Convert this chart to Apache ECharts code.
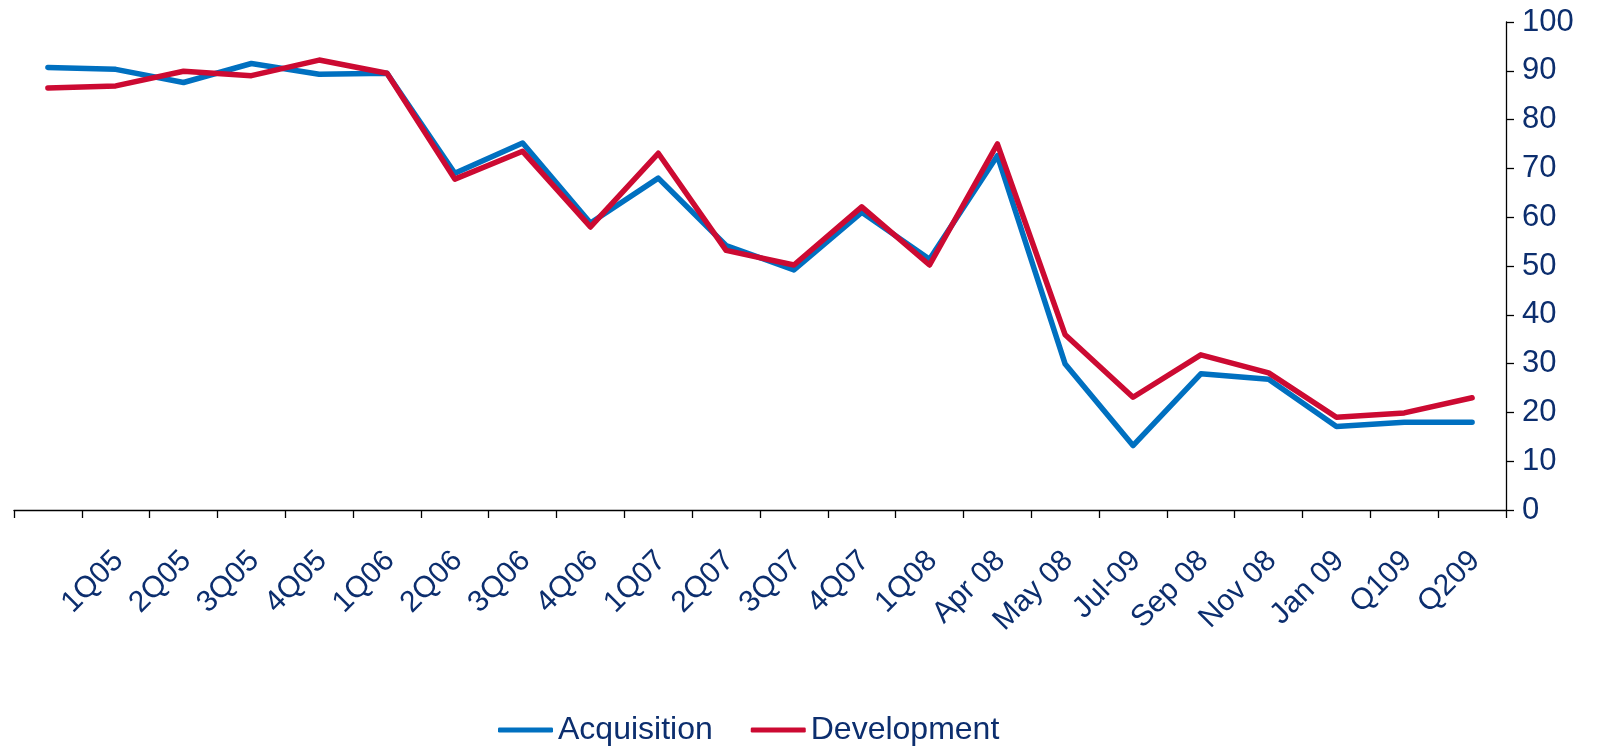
<!DOCTYPE html>
<html>
<head>
<meta charset="utf-8">
<title>Acquisition / Development</title>
<script src="https://cdn.jsdelivr.net/npm/echarts@6/dist/echarts.min.js"></script>
<style>
    html, body { margin: 0; padding: 0; background: #fff; }
    #chart { width: 1602px; height: 747px; }
</style>
</head>
<body>
<div id="chart"></div>
<script>
// 横轴分类 (第一个点没有标签)
var categories = ['', '1Q05', '2Q05', '3Q05', '4Q05', '1Q06', '2Q06', '3Q06', '4Q06', '1Q07', '2Q07',
    '3Q07', '4Q07', '1Q08', 'Apr 08', 'May 08', 'Jul-09', 'Sep 08', 'Nov 08', 'Jan 09', 'Q109', 'Q209'];
var acquisition = [90.7, 90.3, 87.6, 91.5, 89.3, 89.5, 69.0, 75.2, 58.8, 68.0, 54.2,
    49.2, 61.0, 51.4, 72.6, 29.9, 13.2, 27.9, 26.8, 17.1, 18.0, 18.0];
var development = [86.5, 86.9, 89.9, 89.0, 92.2, 89.5, 67.8, 73.5, 58.0, 73.1, 53.2,
    50.2, 62.1, 50.2, 75.0, 35.9, 23.1, 31.8, 28.1, 19.0, 19.9, 23.0];
var yTicks = [0, 10, 20, 30, 40, 50, 60, 70, 80, 90, 100];

var navy = '#0c2e6e';
var font = '"Liberation Sans", Arial, sans-serif';
var labelShift = 3; // 标签相对刻度中心右移

var chart = echarts.init(document.getElementById('chart'));

var option = {
    animation: false,
    textStyle: { fontFamily: font },
    grid: [
        { left: 14, right: 96, top: 22, bottom: 237 },
        { left: 14 + labelShift, right: 96 - labelShift, top: 22, bottom: 237 }
    ],
    legend: {
        left: 498,
        top: 714,
        padding: 0,
        itemGap: 38,
        itemWidth: 55,
        itemHeight: 5,
        icon: 'roundRect',
        textStyle: { color: navy, fontSize: 32, fontFamily: font, padding: [0, 0, 0, 0] },
        data: ['Acquisition', 'Development']
    },
    xAxis: [{
        type: 'category',
        gridIndex: 0,
        data: categories,
        boundaryGap: true,
        axisLine: { lineStyle: { color: '#000', width: 1.3 } },
        axisTick: { show: true, interval: 0, length: 8, lineStyle: { color: '#000', width: 1.3 } },
        axisLabel: { show: false },
        splitLine: { show: false }
    }, {
        // 只用来画旋转的标签
        type: 'category',
        gridIndex: 1,
        data: categories,
        boundaryGap: true,
        axisLine: { show: false },
        axisTick: { show: false },
        axisLabel: {
            interval: 0,
            rotate: 45,
            margin: 46,
            color: navy,
            fontSize: 30,
            fontFamily: font
        },
        splitLine: { show: false }
    }],
    yAxis: [{
        type: 'value',
        gridIndex: 0,
        position: 'right',
        min: yTicks[0],
        max: yTicks[yTicks.length - 1],
        interval: 10,
        axisLine: { show: true, lineStyle: { color: '#000', width: 1.3 } },
        axisTick: { show: true, length: 8, lineStyle: { color: '#000', width: 1.3 } },
        axisLabel: { margin: 16, color: navy, fontSize: 31, fontFamily: font },
        splitLine: { show: false }
    }, {
        type: 'value',
        gridIndex: 1,
        show: false,
        min: 0,
        max: 100
    }],
    series: [{
        name: 'Acquisition',
        type: 'line',
        xAxisIndex: 0,
        yAxisIndex: 0,
        data: acquisition,
        symbol: 'none',
        itemStyle: { color: '#0070c0' },
        lineStyle: { color: '#0070c0', width: 5.5, join: 'round', cap: 'round' }
    }, {
        name: 'Development',
        type: 'line',
        xAxisIndex: 0,
        yAxisIndex: 0,
        data: development,
        symbol: 'none',
        itemStyle: { color: '#cc0a32' },
        lineStyle: { color: '#cc0a32', width: 5.5, join: 'round', cap: 'round' }
    }]
};

chart.setOption(option);
</script>
</body>
</html>
